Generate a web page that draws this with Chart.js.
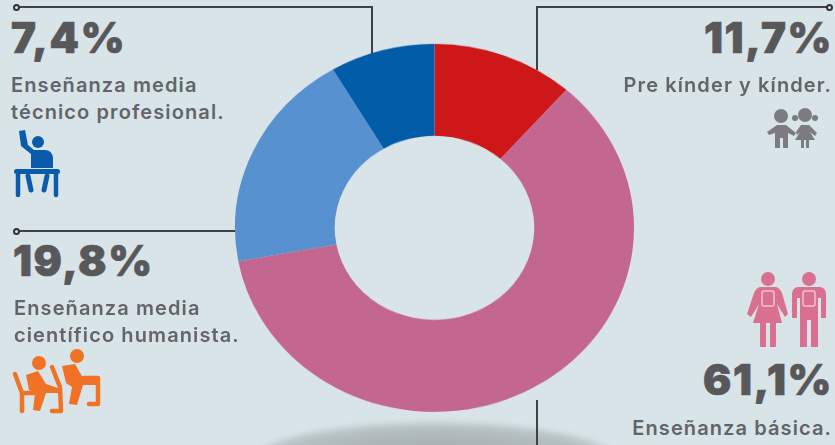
<!DOCTYPE html>
<html><head><meta charset="utf-8">
<script src="https://cdn.jsdelivr.net/npm/chart.js@4"></script>
<style>
html,body{margin:0;padding:0;width:835px;height:445px;overflow:hidden;background:#d9e4e9}
#stage{position:relative;width:835px;height:445px;overflow:hidden;background:#d9e4e9}
#wrap{position:absolute;left:233px;top:42.2px;width:403px;height:403px;transform-origin:0 0;transform:scaleY(0.9223)}
#shadow{position:absolute;left:250px;top:423px;width:370px;height:80px;border-radius:50%;filter:blur(3px);background:radial-gradient(ellipse at center,#a6b0b1 0%,#aab4b5 40%,#bcc7ca 72%,rgba(217,228,233,0) 100%)}
.line{position:absolute;background:#3f4244}
.dot{position:absolute;width:3px;height:3px;border:2px solid #333;border-radius:50%;background:#d9e4e9;box-sizing:content-box}
.pct{position:absolute;font-family:Inter,sans-serif;font-weight:900;font-size:42px;line-height:42px;color:#58585a;letter-spacing:1.6px;white-space:nowrap;-webkit-text-stroke:0.7px #58585a}
.lab{position:absolute;font-family:Inter,sans-serif;font-weight:600;font-size:20px;line-height:27px;color:#626468;letter-spacing:1.1px;white-space:nowrap}
svg{position:absolute;overflow:visible}
</style></head><body>
<div id="stage">
<div id="shadow"></div>
<div class="line" style="left:16px;top:6px;width:356px;height:2px"></div>
<div class="line" style="left:371px;top:6px;width:2px;height:50px"></div>
<div class="line" style="left:536px;top:6px;width:294px;height:2px"></div>
<div class="line" style="left:536px;top:6px;width:2px;height:64px"></div>
<div class="line" style="left:16px;top:230px;width:222px;height:2px"></div>
<div class="line" style="left:536px;top:400px;width:2px;height:45px"></div>
<div id="wrap"><canvas id="c" width="403" height="403"></canvas></div>
<div class="dot" style="left:13px;top:4px"></div>
<div class="dot" style="left:13px;top:228px"></div>
<div class="dot" style="left:826px;top:4px"></div>

<div class="pct" id="p0" style="left:11px;top:17px"></div>
<div class="lab" id="l0" style="left:11px;top:72px"></div>
<div class="pct" id="p1" style="left:13px;top:240px"></div>
<div class="lab" id="l1" style="left:14px;top:295px"></div>
<div class="pct" id="p2" style="right:2px;top:17px"></div>
<div class="lab" id="l2" style="right:3px;top:72px"></div>
<div class="pct" id="p3" style="right:2px;top:359px"></div>
<div class="lab" id="l3" style="right:3px;top:415px"></div>

<svg style="left:0;top:0" width="835" height="445">
 <g fill="#0a5cab" stroke="#0a5cab">
  <circle cx="38" cy="142" r="6" stroke="none"/>
  <path d="M19 131 L21 146 L31 154 L31 168 L53 168 L53 158 Q52 150 45 150 L34 150 L28 145 L25 130 Z" stroke="none"/>
  <rect x="14" y="169" width="46" height="5" rx="2.5" stroke="none"/>
  <path d="M18 172V195M56 172V195" stroke-width="4.5" fill="none" stroke-linecap="round"/>
  <path d="M28 176L31 190M47 176L44 190" stroke-width="5" fill="none" stroke-linecap="round"/>
 </g>
 <g fill="#7d7b82">
  <circle cx="781" cy="116" r="7"/>
  <path d="M767 132L777 125H786L796 133L794 136L788 133V148H783V138H780V148H775V133L769 135Z"/>
  <circle cx="805" cy="115" r="7"/>
  <circle cx="795" cy="118" r="3"/><circle cx="815" cy="118" r="3"/>
  <path d="M796 132L801 125H809L817 133L815 136L810 132L815 140H809V148H806V140H804V148H801V140H795L800 132L797 135Z"/>
 </g>
 <g fill="#d9708f">
  <circle cx="768" cy="279" r="7"/>
  <path d="M760 287H776Q780 288 782 293L788 314L785 317L777 304L782 323H776V347H770V323H766V347H760V323H753L759 304L751 317L747 314L754 293Q756 288 760 287Z"/>
  <circle cx="809" cy="279" r="7"/>
  <path d="M798 287H820Q826 288 826 294V318H821V298H818V347H811V320H807V347H800V298H797V318H792V294Q792 288 798 287Z"/>
  <rect x="762" y="291" width="12" height="15" rx="2" fill="none" stroke="#ecc4d2" stroke-width="1.5"/>
  <rect x="803" y="291" width="12" height="15" rx="2" fill="none" stroke="#ecc4d2" stroke-width="1.5"/>
 </g>
 <g fill="#f07226" stroke="#f07226">
  <circle cx="39" cy="363" r="7" stroke="none"/>
  <circle cx="77" cy="356" r="7" stroke="none"/>
  <path d="M26 375L38 371L46 384L58 388V393L46 393L40 411L33 410L35 393L29 390Z" stroke="none"/>
  <path d="M62 366L75 364L83 378L97 380V385L83 385L77 405L69 404L72 387L66 383Z" stroke="none"/>
  <path d="M15 374L22 393L22 411M22 393H34M52 367L60 387L61 411H52M84 378H98V404H89" fill="none" stroke-width="4.5" stroke-linecap="round" stroke-linejoin="round"/>
 </g>
</svg>
</div>
<script>
const categories=["Pre kínder y kínder.","Enseñanza básica.","Enseñanza media científico humanista.","Enseñanza media técnico profesional."];
// Percentages printed on the picture
const printedValues=[11.7,61.1,19.8,7.4];
const drawnShares=[11.5,60.6,19.4,8.5];
const colors=["#cd1719","#c36690","#5791d0","#025ca8"];
const fmt=v=>v.toFixed(1).replace('.',',')+'%';
document.getElementById('p0').textContent=fmt(printedValues[3]);
document.getElementById('p1').textContent=fmt(printedValues[2]);
document.getElementById('p2').textContent=fmt(printedValues[0]);
document.getElementById('p3').textContent=fmt(printedValues[1]);
document.getElementById('l0').innerHTML='Enseñanza media<br>técnico profesional.';
document.getElementById('l1').innerHTML='Enseñanza media<br>científico humanista.';
document.getElementById('l2').textContent=categories[0];
document.getElementById('l3').textContent=categories[1];
new Chart(document.getElementById('c'),{type:'doughnut',
 data:{labels:categories,datasets:[{data:drawnShares,backgroundColor:colors,borderWidth:0}]},
 options:{responsive:false,animation:false,cutout:'50%',layout:{padding:2},plugins:{legend:{display:false},tooltip:{enabled:false}}}});
</script>
</body></html>
